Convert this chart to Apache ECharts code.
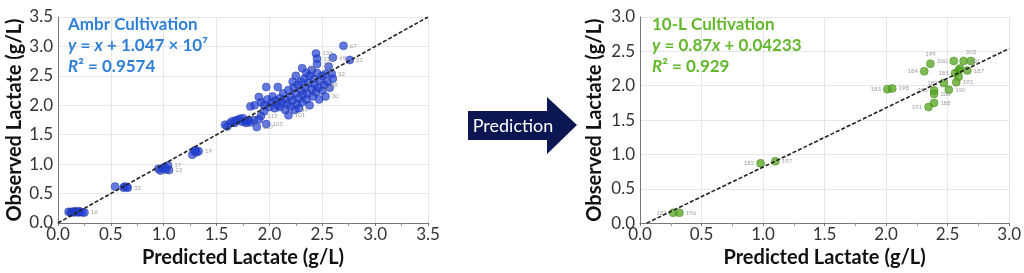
<!DOCTYPE html>
<html><head><meta charset="utf-8">
<script src="https://cdn.jsdelivr.net/npm/echarts@6/dist/echarts.min.js"></script>
<style>html,body{margin:0;padding:0;background:#fff}#c{width:1024px;height:273px}</style>
</head><body><div id="c"></div>
<script>
// ---- data ----
var ambrTicks = [0.0, 0.5, 1.0, 1.5, 2.0, 2.5, 3.0, 3.5];
var tenLTicks = [0.0, 0.5, 1.0, 1.5, 2.0, 2.5, 3.0];
// [predicted, observed, label]
var ambrPoints = [
 [0.10,0.19,''],[0.12,0.18,''],[0.13,0.19,''],[0.15,0.18,''],[0.16,0.20,''],[0.17,0.19,''],[0.19,0.18,''],[0.20,0.20,''],[0.21,0.19,''],[0.23,0.18,''],[0.25,0.18,'16'],
 [0.54,0.62,''],[0.62,0.60,''],[0.63,0.62,''],[0.65,0.61,''],[0.66,0.60,'32'],
 [0.95,0.92,''],[0.97,0.89,''],[0.99,0.93,''],[1.01,0.95,''],[1.04,0.98,'17'],[1.05,0.90,'12'],[1.02,0.91,''],
 [1.27,1.16,''],[1.29,1.22,''],[1.31,1.20,''],[1.33,1.22,'19'],[1.30,1.24,''],
 [1.58,1.67,''],[1.60,1.64,''],[1.63,1.70,''],[1.65,1.73,''],[1.67,1.70,''],[1.68,1.74,''],[1.70,1.75,''],[1.72,1.77,''],[1.74,1.72,''],[1.75,1.78,''],[1.77,1.73,''],[1.78,1.70,''],[1.80,1.74,''],[1.82,1.71,''],[1.85,1.75,''],
 [1.88,1.63,'117'],[1.92,1.82,'115'],[1.97,1.68,'105'],[1.90,1.76,''],[1.95,1.90,''],
 [1.82,1.98,''],[1.86,2.00,''],[1.90,2.14,''],[1.92,2.05,''],[1.95,2.00,''],[1.97,2.31,''],[1.98,2.10,''],[2.00,1.97,''],[2.02,2.05,''],[2.03,2.15,''],[2.05,1.95,''],[2.06,2.08,''],[2.08,2.31,''],[2.08,2.00,''],[2.10,2.12,''],[2.10,1.97,''],[2.12,2.05,''],[2.13,2.20,''],[2.15,1.92,''],[2.15,2.10,''],[2.17,2.02,''],[2.18,2.26,''],[2.18,1.83,'101'],[2.20,2.15,''],[2.20,1.98,''],[2.22,2.40,''],[2.22,2.08,''],[2.23,2.30,''],[2.24,1.92,'49'],[2.25,2.50,''],[2.25,2.20,''],[2.26,2.02,''],[2.27,2.35,''],[2.28,2.12,''],[2.28,1.95,''],[2.30,2.40,''],[2.30,2.25,''],[2.31,2.63,'29'],[2.31,2.05,''],[2.32,2.18,''],[2.33,2.45,''],[2.34,2.30,''],[2.35,2.55,''],[2.35,2.10,''],[2.36,2.20,''],[2.37,2.38,''],[2.38,2.50,''],[2.38,2.00,''],[2.40,2.28,''],[2.40,2.60,''],[2.41,2.15,''],[2.42,2.45,''],[2.43,2.35,''],[2.44,2.88,'133'],[2.44,2.22,''],[2.45,2.79,'158'],[2.45,2.70,'15'],[2.45,2.55,''],[2.46,2.30,'26'],[2.47,2.10,''],[2.48,2.42,''],[2.50,2.50,''],[2.50,2.25,''],[2.52,2.35,'28'],[2.53,2.53,''],[2.53,2.15,'30'],[2.55,2.40,''],[2.56,2.66,''],[2.57,2.30,''],[2.59,2.53,'32'],[2.60,2.81,'69'],[2.60,2.45,''],[2.70,3.01,'67'],[2.76,2.77,'22']
];
var ambrFit = [[0, 0], [3.5, 3.5]];
var tenLPoints = [
 [0.27,0.15,'181'],[0.32,0.15,'196'],
 [0.98,0.87,'182'],[1.10,0.90,'197'],
 [2.01,1.95,'183'],[2.05,1.96,'198'],
 [2.31,2.21,'184'],[2.36,2.32,'199'],
 [2.55,2.36,'200'],[2.63,2.36,'201'],[2.69,2.36,'202'],[2.66,2.22,'187'],[2.60,2.25,''],[2.59,2.22,''],[2.56,2.18,'185'],[2.59,2.13,''],
 [2.47,2.04,'189'],[2.57,2.05,'193'],[2.51,1.94,'190'],[2.39,1.93,'205'],[2.39,1.88,'206'],[2.39,1.75,'188'],[2.345,1.69,'191']
];
var tenLLeftLabels = ['181','182','183','184','200','185','191','205','189'];
var tenLTopLabels = ['199','202'];
var tenLFit = [[0.054, 0], [3.0, 2.54]];

// ---- chart ----
var FONT = 'Lato';
function xAx(gi, max, ticks){
  return {gridIndex:gi, type:'value', min:0, max:max, interval:0.5,
    name:'Predicted Lactate (g/L)', nameLocation:'middle', nameGap:22,
    nameTextStyle:{fontFamily:FONT, fontWeight:'bold', fontSize:20, color:'#111'},
    axisLine:{show:true, lineStyle:{color:'#777', width:1}},
    axisTick:{show:true, length:3, lineStyle:{color:'#777'}},
    minorTick:{show:true, splitNumber:2, length:3, lineStyle:{color:'#999'}},
    axisLabel:{fontFamily:FONT, fontSize:17, color:'#333', margin:3,
      formatter:function(v){ return ticks.indexOf(v) >= 0 ? v.toFixed(1) : ''; }},
    splitLine:{show:true, lineStyle:{color:'#e6e6e6'}}};
}
function yAx(gi, max, ticks, gap){
  return {gridIndex:gi, type:'value', min:0, max:max, interval:0.5,
    name:'Observed Lactate (g/L)', nameLocation:'middle', nameGap:gap,
    nameTextStyle:{fontFamily:FONT, fontWeight:'bold', fontSize:20, color:'#111'},
    axisLine:{show:true, lineStyle:{color:'#777', width:1}},
    axisTick:{show:false},
    axisLabel:{fontFamily:FONT, fontSize:17, color:'#333', margin:5,
      formatter:function(v){ return ticks.indexOf(v) >= 0 ? v.toFixed(1) : ''; }},
    splitLine:{show:true, lineStyle:{color:'#e6e6e6'}}};
}
function lbl(pos){
  return {show:true, position:pos, distance:2, fontSize:6, color:'#888', fontFamily:FONT,
    formatter:function(p){ return p.value[2]; }};
}
var chart = echarts.init(document.getElementById('c'), null, {renderer:'canvas'});
var rich = function(col){ return {
  i:{fontStyle:'italic', fontFamily:FONT, fontWeight:'bold', fontSize:17, color:col, lineHeight:21},
  n:{fontFamily:FONT, fontWeight:'bold', fontSize:17, color:col, lineHeight:21}
};};
chart.setOption({
  animation:false,
  grid:[{left:58, top:17, width:370, height:206},{left:640, top:17, width:371, height:207}],
  xAxis:[xAx(0,3.5,ambrTicks), xAx(1,3.0,tenLTicks)],
  yAxis:[yAx(0,3.5,ambrTicks,33), yAx(1,3.0,tenLTicks,35)],
  title:[
    {left:68, top:14, padding:0, text:'{n|Ambr Cultivation}\n{i|y}{n| = }{i|x}{n| + 1.047 × 10⁷}\n{i|R}{n|² = 0.9574}',
     textStyle:{rich:rich('#2f7fd9')}},
    {left:652, top:14, padding:0, text:'{n|10-L Cultivation}\n{i|y}{n| = 0.87}{i|x}{n| + 0.04233}\n{i|R}{n|² = 0.929}',
     textStyle:{rich:rich('#62b82a')}}
  ],
  graphic:[
    {type:'polygon', shape:{points:[[468,111],[547,111],[547,97],[577,125],[547,154],[547,140],[468,140]]},
     style:{fill:'#0c1652'}},
    {type:'text', x:513, y:126, style:{text:'Prediction', fill:'#fff', fontFamily:FONT, fontSize:18,
     align:'center', verticalAlign:'middle'}}
  ],
  series:[
    {type:'scatter', xAxisIndex:0, yAxisIndex:0, data:ambrPoints, symbolSize:8,
     itemStyle:{color:'rgba(36,66,212,0.88)', borderColor:'#1c33a0', borderWidth:0.6},
     label:lbl('right'), z:3},
    {type:'line', xAxisIndex:0, yAxisIndex:0, data:ambrFit, symbol:'none',
     lineStyle:{color:'#222', width:1.6, type:[4,2]}, z:4},
    {type:'scatter', xAxisIndex:1, yAxisIndex:1, symbolSize:8,
     data:tenLPoints.map(function(p){
       var pos = tenLLeftLabels.indexOf(p[2]) >= 0 ? 'left' : (tenLTopLabels.indexOf(p[2]) >= 0 ? 'top' : 'right');
       return {value:p, label:{position:pos}};
     }),
     itemStyle:{color:'rgba(80,160,25,0.92)', borderColor:'#3d8a12', borderWidth:0.6},
     label:lbl('right'), z:3},
    {type:'line', xAxisIndex:1, yAxisIndex:1, data:tenLFit, symbol:'none',
     lineStyle:{color:'#222', width:1.6, type:[4,2]}, z:4}
  ]
});
</script></body></html>
